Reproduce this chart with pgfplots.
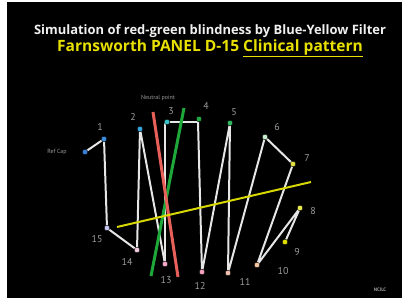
\documentclass[border=0pt]{standalone}
\usepackage{pgfplots}
\pgfplotsset{compat=1.18}
\usepackage{fontspec}
\setmainfont{PT Sans}
\newfontfamily\ttlfont{Open Sans}
\definecolor{ttl}{HTML}{F0F0F0}
\definecolor{ylw}{HTML}{E8E000}
\definecolor{lbl}{HTML}{9A9A9A}
\definecolor{wline}{HTML}{E6E6E6}
\definecolor{redl}{HTML}{E8605A}
\definecolor{grnl}{HTML}{1EA83A}
\definecolor{ylwl}{HTML}{D8D800}
\definecolor{ca}{HTML}{3A7ED8}
\definecolor{cb}{HTML}{3A8EE0}
\definecolor{cc}{HTML}{36A6DC}
\definecolor{cd}{HTML}{38C0C8}
\definecolor{ce}{HTML}{22A845}
\definecolor{cf}{HTML}{30B860}
\definecolor{cg}{HTML}{C8F0D0}
\definecolor{ch}{HTML}{E0E040}
\definecolor{ci}{HTML}{E8E850}
\definecolor{cj}{HTML}{E0E000}
\definecolor{ck}{HTML}{F2C4A0}
\definecolor{cl}{HTML}{F2C0B0}
\definecolor{cm}{HTML}{F2A0C0}
\definecolor{cn}{HTML}{F2A8C8}
\definecolor{co}{HTML}{F0C8E0}
\definecolor{cp}{HTML}{C4C4F0}
\begin{document}
\begin{tikzpicture}
\begin{axis}[
  width=404bp, height=298bp, scale only axis,
  xmin=0, xmax=404, ymin=0, ymax=298, y dir=reverse,
  axis lines=none, ticks=none, enlargelimits=false, clip=false,
]
\fill[white] (axis cs:0,0) rectangle (axis cs:404,298);
\fill[black] (axis cs:7,2) rectangle (axis cs:402,298);
% titles
\node[font=\ttlfont\bfseries\fontsize{13}{14}\selectfont, text=ttl] at (axis cs:210,31) {Simulation of red-green blindness by Blue-Yellow Filter};
\node[font=\ttlfont\bfseries\fontsize{15.6}{17}\selectfont, text=ylw] at (axis cs:210,48) {Farnsworth PANEL D-15 \underline{Clinical pattern}};
% white path of caps
\addplot[wline, line width=2pt, line join=round] coordinates {
 (85,152) (104,139) (107,228) (137,250) (140,129) (165,264) (165,122)
 (198,122) (202,272) (230,123) (228,273) (265,137) (293,164) (257,265)
 (300,208) (285,242)
};
% axes of confusion
\addplot[grnl, line width=3pt] coordinates {(184,108) (151,276)};
\addplot[redl, line width=3pt] coordinates {(153,112) (178,277)};
\addplot[ylwl, line width=2pt] coordinates {(117,227) (311,182)};
% caps
\addplot[only marks, mark=*, mark size=2.8pt, scatter, point meta=explicit symbolic,
  scatter/classes={
    a={draw=none, fill=ca},
    b={draw=none, fill=cb},
    c={draw=none, fill=cc},
    d={draw=none, fill=cd},
    e={draw=none, fill=ce},
    f={draw=none, fill=cf},
    g={draw=none, fill=cg},
    h={draw=none, fill=ch},
    i={draw=none, fill=ci},
    j={draw=none, fill=cj},
    k={draw=none, fill=ck},
    l={draw=none, fill=cl},
    m={draw=none, fill=cm},
    n={draw=none, fill=cn},
    o={draw=none, fill=co},
    p={draw=none, fill=cp}}]
 table[meta=c] {
x y c
85 152 a
104 139 b
140 129 c
167 122 d
199 119 e
230 123 f
265 137 g
293 164 h
300 208 i
285 242 j
257 265 k
228 273 l
202 272 m
165 264 n
137 250 o
107 228 p
};
% labels
\begin{scope}[every node/.style={text=lbl, font=\fontsize{10}{11}\selectfont}]
\node at (axis cs:100,127) {1};
\node at (axis cs:133,117) {2};
\node at (axis cs:171,111) {3};
\node at (axis cs:206,106) {4};
\node at (axis cs:234,112) {5};
\node at (axis cs:277,127) {6};
\node at (axis cs:307,158) {7};
\node at (axis cs:313,211) {8};
\node at (axis cs:297,252) {9};
\node at (axis cs:283,271) {10};
\node at (axis cs:245,282) {11};
\node at (axis cs:200,286) {12};
\node at (axis cs:166,280) {13};
\node at (axis cs:127,262) {14};
\node at (axis cs:97,239) {15};
\end{scope}
\node[text=lbl, font=\fontsize{6}{7}\selectfont] at (axis cs:158,98) {Neutral point};
\node[text=lbl, font=\fontsize{6}{7}\selectfont] at (axis cs:57,152) {Ref Cap};
\node[text=lbl, font=\bfseries\fontsize{5}{6}\selectfont] at (axis cs:380,290) {NCILC};
\end{axis}
\end{tikzpicture}
\end{document}
